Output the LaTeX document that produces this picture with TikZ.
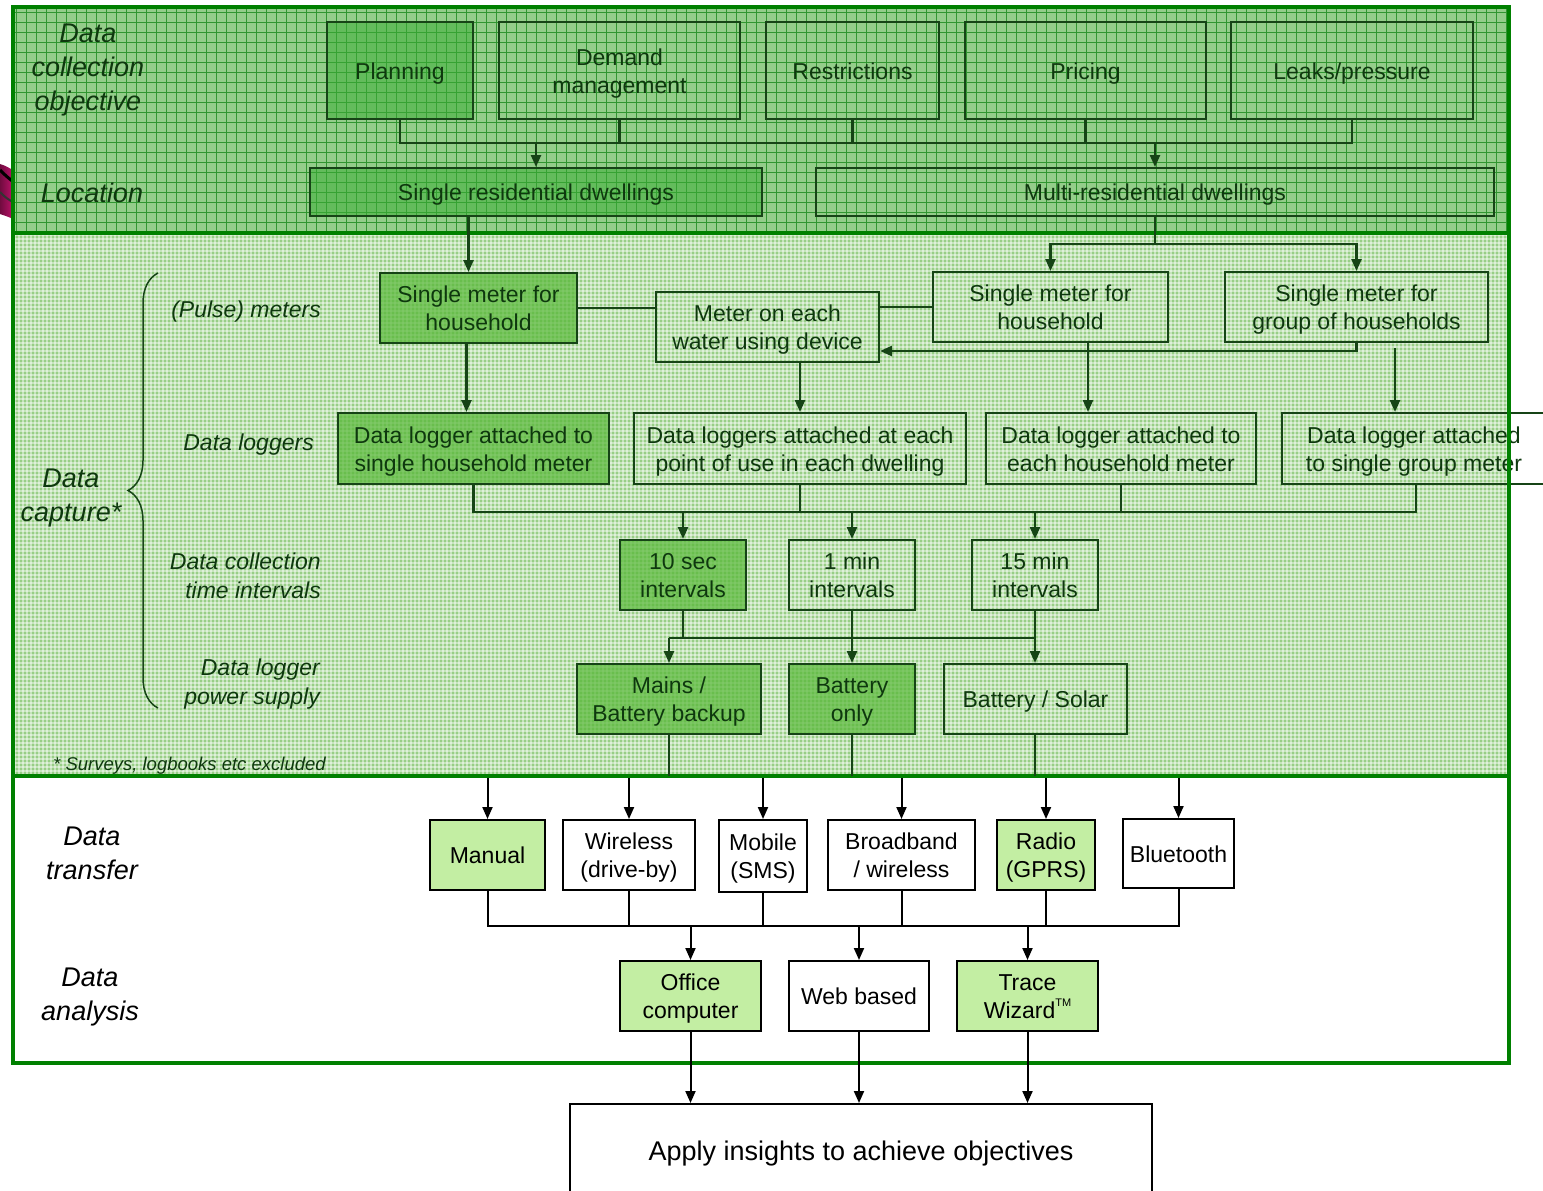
\documentclass[tikz,border=0pt]{standalone}
\usepackage{fontspec}
\setmainfont{Liberation Sans}
\usetikzlibrary{arrows.meta,decorations.pathreplacing,calc}

\definecolor{framegreen}{RGB}{0,128,0}
\definecolor{topbg}{RGB}{148,205,138}
\definecolor{topgrid}{RGB}{48,150,48}
\definecolor{midbg}{RGB}{152,206,134}
\definecolor{dkline}{RGB}{22,68,22}
\definecolor{dktext}{RGB}{14,56,14}
\definecolor{topfill}{RGB}{60,175,55}
\definecolor{midfill}{RGB}{88,184,56}
\definecolor{lightfill}{RGB}{195,238,163}
\definecolor{swoosh}{RGB}{205,20,115}

% box text: centred lines, set a little lower than the geometric centre
\newcommand{\bx}[1]{\raisebox{0pt}[\dimexpr\height+6pt\relax][\depth]{\begin{tabular}{@{}c@{}}#1\end{tabular}}}

\tikzset{
  every node/.style={font=\fontsize{23}{28}\selectfont, align=center, inner sep=0pt},
  sz/.style 2 args={minimum width=#1pt, minimum height=#2pt},
  gbox/.style={draw=dkline, line width=2pt, text=dktext},
  tboxf/.style={gbox, fill=topfill, fill opacity=0.55, text opacity=1},
  mboxf/.style={gbox, fill=midfill, fill opacity=0.72, text opacity=1},
  bbox/.style={draw=black, line width=2pt, fill=white, text=black},
  bboxf/.style={bbox, fill=lightfill},
  rowlabel/.style={font=\itshape\fontsize{27}{34}\selectfont, text=dktext},
  sublabel/.style={font=\itshape\fontsize{23}{29}\selectfont, text=dktext, align=right, anchor=east},
  blabel/.style={font=\itshape\fontsize{27}{34}\selectfont, text=black},
  gline/.style={draw=dkline, line width=2.4pt},
  bline/.style={draw=black, line width=2pt},
  arr/.style={-{Triangle[length=12pt,width=10pt]}},
  frameline/.style={draw=framegreen, line width=4pt},
}

\begin{document}
\begin{tikzpicture}[x=1pt,y=-1pt]
\useasboundingbox (0,0) rectangle (1543,1191);
\clip (0,0) rectangle (1543,1191);

% small swoosh at the left edge
\shade[left color=swoosh!55!black, right color=swoosh]
  (0,164) .. controls (6,166) .. (16,172) -- (16,220) .. controls (6,216) .. (0,214) -- cycle;
\draw[black, line width=3pt] (0,170) .. controls (6,176) .. (16,184);
\draw[black!80, line width=2pt] (0,192) .. controls (6,198) .. (16,204);

% section backgrounds
\fill[topbg] (13,7) rectangle (1509,233);
\fill[midbg] (13,233) rectangle (1509,776);
\fill[white] (13,776) rectangle (1509,1063);

% coarse grid of the objective / location band
\begin{scope}
  \clip (13,7) rectangle (1509,233);
  \foreach \x in {16,26,...,1506} \draw[topgrid, line width=0.8pt] (\x,7) -- (\x,233);
  \foreach \y in {12,22,...,232} \draw[topgrid, line width=0.8pt] (13,\y) -- (1509,\y);
\end{scope}

% fine lattice of the data capture band
\begin{scope}
  \clip (13,233) rectangle (1509,776);
  \foreach \x in {15,19,...,1507} \draw[white, opacity=0.45, line width=1.2pt] (\x,233) -- (\x,776);
  \foreach \y in {235,239,...,775} \draw[white, opacity=0.45, line width=1.2pt] (13,\y) -- (1509,\y);
\end{scope}

% ---- objectives and location
\node[tboxf, sz={146}{97}] (plan) at (400,70.5) {\bx{Planning}};
\node[gbox, sz={241}{97}] (dem) at (619.5,70.5) {\bx{Demand\\management}};
\node[gbox, sz={173}{97}] (res) at (852.5,70.5) {\bx{Restrictions}};
\node[gbox, sz={241}{97}] (pri) at (1085.5,70.5) {\bx{Pricing}};
\node[gbox, sz={242}{97}] (leak) at (1352,70.5) {\bx{Leaks/pressure}};
\node[tboxf, sz={452}{48}] (single) at (536,192) {\bx{Single residential dwellings}};
\node[gbox, sz={678}{48}] (multi) at (1155,192) {\bx{Multi-residential dwellings}};

% ---- meters
\node[mboxf, sz={197}{70}] (smh1) at (478.5,308) {\bx{Single meter for\\household}};
\node[gbox, sz={223}{70}] (meter) at (767.5,327) {\bx{Meter on each\\water using device}};
\node[gbox, sz={235}{70}] (smh2) at (1050.5,307) {\bx{Single meter for\\household}};
\node[gbox, sz={263}{70}] (smg) at (1356.5,307) {\bx{Single meter for\\group of households}};

% ---- data loggers
\node[mboxf, sz={271}{71}] (dl1) at (473.5,448.5) {\bx{Data logger attached to\\single household meter}};
\node[gbox, sz={332}{71}] (dl2) at (800,448.5) {\bx{Data loggers attached at each\\point of use in each dwelling}};
\node[gbox, sz={270}{71}] (dl3) at (1121,448.5) {\bx{Data logger attached to\\each household meter}};
\node[gbox, sz={264}{71}] (dl4) at (1414,448.5) {\bx{Data logger attached\\to single group meter}};

% ---- time intervals
\node[mboxf, sz={126}{70}] (t10) at (683,575) {\bx{10 sec\\intervals}};
\node[gbox, sz={126}{70}] (t1) at (852,575) {\bx{1 min\\intervals}};
\node[gbox, sz={126}{70}] (t15) at (1035,575) {\bx{15 min\\intervals}};

% ---- power supply
\node[mboxf, sz={184}{70}] (mains) at (669,699) {\bx{Mains /\\Battery backup}};
\node[mboxf, sz={126}{70}] (batt) at (852,699) {\bx{Battery\\only}};
\node[gbox, sz={183}{70}] (solar) at (1035.5,699) {\bx{Battery / Solar}};

% ---- data transfer
\node[bboxf, sz={115}{70}] (manual) at (487.5,855) {\bx{Manual}};
\node[bbox, sz={132}{70}] (wireless) at (629,855) {\bx{Wireless\\(drive-by)}};
\node[bbox, sz={88}{72}] (mobile) at (763,856) {\bx{Mobile\\(SMS)}};
\node[bbox, sz={147}{70}] (broad) at (901.5,855) {\bx{Broadband\\/ wireless}};
\node[bboxf, sz={98}{70}] (radio) at (1046,855) {\bx{Radio\\(GPRS)}};
\node[bbox, sz={111}{69}] (bt) at (1178.5,853.5) {\bx{Bluetooth}};

% ---- data analysis
\node[bboxf, sz={141}{70}] (office) at (690.5,996) {\bx{Office\\computer}};
\node[bbox, sz={140}{70}] (web) at (859,996) {\bx{Web based}};
\node[bboxf, sz={141}{70}] (trace) at (1027.5,996) {\bx{Trace\\Wizard\raisebox{0.55em}{\fontsize{11}{11}\selectfont TM}}};

\node[bbox, sz={582}{94}, font=\fontsize{27}{32}\selectfont] (apply) at (861,1151) {\bx{Apply insights to achieve objectives}};

% section frames
\draw[frameline] (13,7) rectangle (1509,233);
\draw[frameline] (13,233) rectangle (1509,776);
\draw[frameline] (13,776) rectangle (1509,1063);

% ---- connectors: objectives to location
\draw[gline] (plan.south) -- ++(0,23) coordinate (topbus) -| (leak.south);
\draw[gline] (dem.south) -- (dem.south |- topbus);
\draw[gline] (res.south) -- (res.south |- topbus);
\draw[gline] (pri.south) -- (pri.south |- topbus);
\draw[gline, arr] (single.north |- topbus) -- (single.north);
\draw[gline, arr] (multi.north |- topbus) -- (multi.north);

% ---- location to meters
\draw[gline, arr] ([xshift=-10pt]smh1.north |- single.south) -- ([xshift=-10pt]smh1.north);
\draw[gline] (multi.south) -- ++(0,27) coordinate (mbus);
\draw[gline, arr] (mbus) -| (smh2.north);
\draw[gline, arr] (mbus) -| (smg.north);
\draw[gline] (smh1.east) -- (smh1.east -| meter.west);
\draw[gline] (smh2.west) -- (smh2.west -| meter.east);
\draw[gline, arr] (smg.south) |- ([yshift=-24pt]meter.east);

% ---- meters to loggers
\draw[gline, arr] ([xshift=-12pt]smh1.south) -- ([xshift=-12pt]smh1.south |- dl1.north);
\draw[gline, arr] (meter.south -| dl2.north) -- (dl2.north);
\draw[gline, arr] ([xshift=37.5pt]smh2.south) -- ([xshift=37.5pt]smh2.south |- dl3.north);
\draw[gline, arr] ([xshift=38.5pt,yshift=-5pt]smg.south) -- ([xshift=38.5pt]smg.south |- dl4.north);

% ---- loggers to intervals
\draw[gline] (dl1.south) -- ++(0,27) coordinate (dbus) -| ([xshift=2pt]dl4.south);
\draw[gline] (dl2.south) -- (dl2.south |- dbus);
\draw[gline] (dl3.south) -- (dl3.south |- dbus);
\draw[gline, arr] (t10.north |- dbus) -- (t10.north);
\draw[gline, arr] (t1.north |- dbus) -- (t1.north);
\draw[gline, arr] (t15.north |- dbus) -- (t15.north);

% ---- intervals to power supply
\draw[gline] (t10.south) -- ++(0,27) coordinate (ibus);
\draw[gline] (mains.north |- ibus) -- (t15.south |- ibus);
\draw[gline, arr] (mains.north |- ibus) -- (mains.north);
\draw[gline, arr] (t1.south) -- (batt.north);
\draw[gline, arr] (t15.south) -- (t15.south |- solar.north);

% ---- power supply down to the transfer band
\coordinate (capbase) at (0,776);
\draw[gline] (mains.south) -- (mains.south |- capbase);
\draw[gline] (batt.south) -- (batt.south |- capbase);
\draw[gline] ([xshift=-0.5pt]solar.south) -- ([xshift=-0.5pt]solar.south |- capbase);

% ---- into data transfer
\coordinate (xfertop) at (0,778);
\foreach \n in {manual,wireless,mobile,broad,radio,bt}
  \draw[bline, arr] (\n.north |- xfertop) -- (\n.north);

% ---- transfer to analysis
\draw[bline] (manual.south) -- ++(0,35) coordinate (xbus) -| (bt.south);
\foreach \n in {wireless,mobile,broad,radio}
  \draw[bline] (\n.south) -- (\n.south |- xbus);
\foreach \n in {office,web,trace}
  \draw[bline, arr] (\n.north |- xbus) -- (\n.north);

% ---- analysis to outcome
\foreach \n in {office,web,trace}
  \draw[bline, arr] (\n.south) -- (\n.south |- apply.north);

% ---- row labels
\node[rowlabel] (lobj) at (88,70.5) {Data\\collection\\objective};
\node[rowlabel] (lloc) at (92,193) {Location};
\node[rowlabel] (lcap) at (71,498) {Data\\capture*};
\node[sublabel] (lmet) at (321,312) {(Pulse) meters};
\node[sublabel] (llog) at (314,444.5) {Data loggers};
\node[sublabel] (lint) at (321,575.5) {Data collection\\time intervals};
\node[sublabel] (lpow) at (320,684.5) {Data logger\\power supply};
\node[anchor=west, font=\itshape\fontsize{18.5}{22}\selectfont, text=dktext] (lnote) at (53,766) {* Surveys, logbooks etc excluded};
\node[blabel] (lxfer) at (92,853) {Data\\transfer};
\node[blabel] (lana) at (90,997) {Data\\analysis};

% brace grouping the data capture rows
\draw[dkline, line width=1.5pt, decorate, decoration={brace, amplitude=30pt}]
  (158,708) -- (158,273);
\end{tikzpicture}
\end{document}
